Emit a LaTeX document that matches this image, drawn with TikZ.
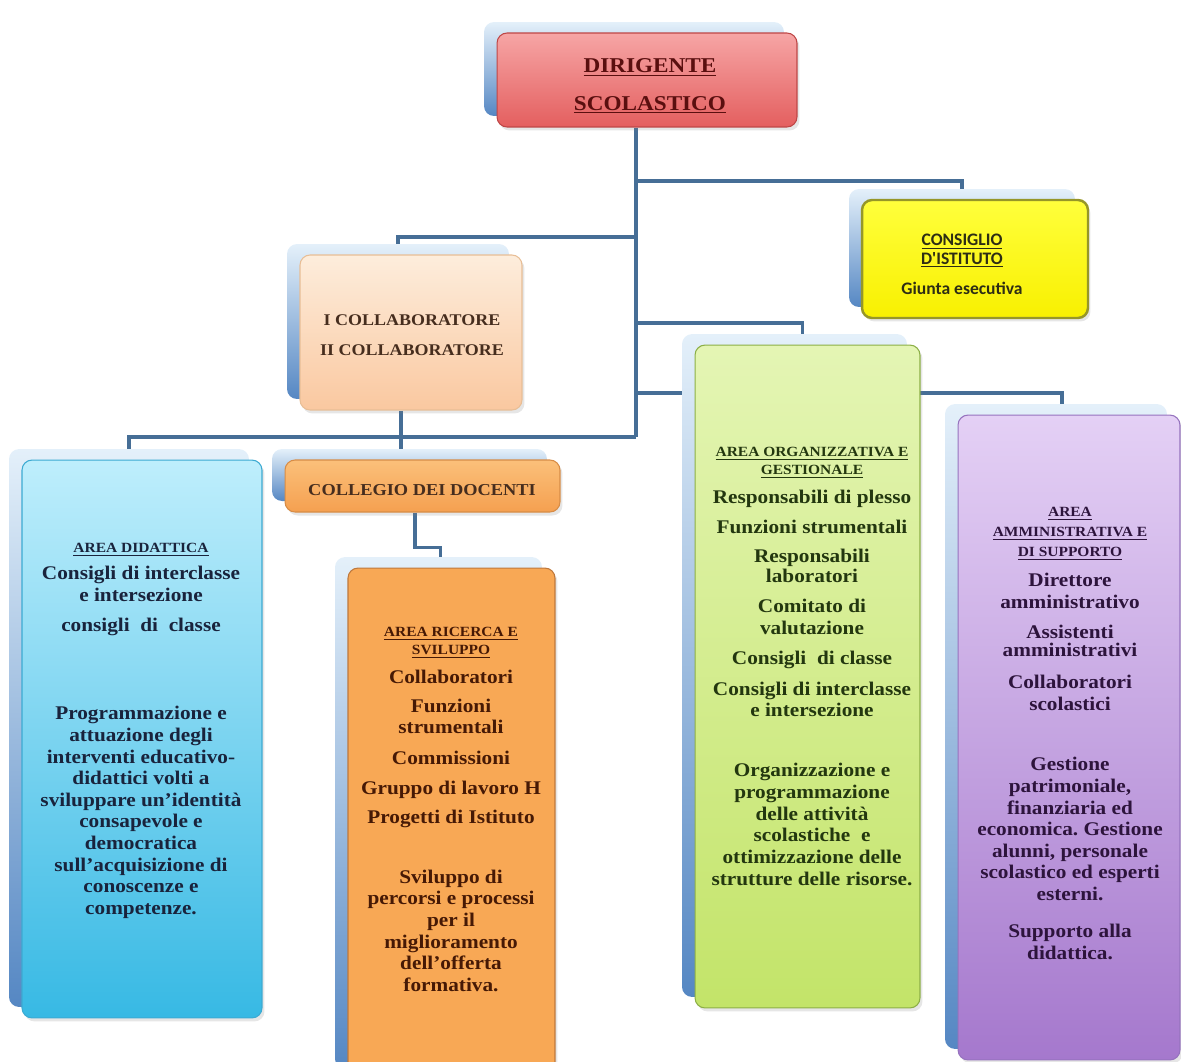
\documentclass[tikz,border=0pt]{standalone}
\usepackage{fontspec}
\setmainfont{Liberation Serif}[FakeStretch=1.1]
\newfontfamily\calib{Carlito}
\usetikzlibrary{shadows}
\pgfdeclarelayer{bg}
\pgfsetlayers{bg,main}
\frenchspacing
\definecolor{linkc}{RGB}{70,110,150}
\definecolor{shtop}{RGB}{228,240,250}
\definecolor{shbot}{RGB}{85,135,195}
\definecolor{redtop}{RGB}{246,165,165}
\definecolor{redbot}{RGB}{228,95,95}
\definecolor{redline}{RGB}{190,70,70}
\definecolor{redtxt}{RGB}{90,15,15}
\definecolor{yeltop}{RGB}{255,255,60}
\definecolor{yelbot}{RGB}{248,240,0}
\definecolor{yelline}{RGB}{150,150,40}
\definecolor{constxt}{RGB}{45,45,20}
\definecolor{pchtop}{RGB}{253,237,220}
\definecolor{pchbot}{RGB}{250,200,160}
\definecolor{pchline}{RGB}{232,190,150}
\definecolor{coltxt}{RGB}{70,45,30}
\definecolor{orgtop}{RGB}{251,192,122}
\definecolor{orgbot}{RGB}{245,160,80}
\definecolor{orgline}{RGB}{215,140,70}
\definecolor{didtop}{RGB}{190,238,252}
\definecolor{didbot}{RGB}{55,185,228}
\definecolor{didline}{RGB}{60,170,210}
\definecolor{didtxt}{RGB}{25,35,60}
\definecolor{ricfill}{RGB}{248,168,85}
\definecolor{ricline}{RGB}{190,120,60}
\definecolor{rictxt}{RGB}{70,25,5}
\definecolor{grntop}{RGB}{228,245,180}
\definecolor{grnbot}{RGB}{195,228,105}
\definecolor{grnline}{RGB}{140,175,70}
\definecolor{grntxt}{RGB}{35,55,15}
\definecolor{vlttop}{RGB}{228,208,245}
\definecolor{vltbot}{RGB}{165,120,205}
\definecolor{vltline}{RGB}{150,115,190}
\definecolor{vlttxt}{RGB}{45,20,60}
\newcommand{\hd}[1]{{\fontsize{8}{9}\selectfont\underline{#1}}}
\tikzset{box/.style={rounded corners=0.2cm, line width=0.6pt, inner sep=0pt,
    preaction={draw=none, top color=shtop, bottom color=shbot,
      transform canvas={xshift=-0.26cm, yshift=0.22cm}},
    drop shadow={shadow xshift=0.05cm, shadow yshift=-0.07cm, opacity=0.2}}}
\tikzset{txt/.style={align=center, inner sep=0pt, font=\fontsize{11}{12.3}\selectfont\bfseries}}
\tikzset{link/.style={draw=linkc, line width=2.2pt}}

\begin{document}
\begin{tikzpicture}[x=0.02cm,y=-0.02cm]
  \useasboundingbox (0,0) rectangle (1181,1062);
  \clip (0,0) rectangle (1181,1062);
  \node[box, draw=redline, top color=redtop, bottom color=redbot, minimum width=6cm, minimum height=1.88cm] (dirigente) at (647,80) {};
  \node[box, draw=yelline, line width=1.4pt, top color=yeltop, bottom color=yelbot, minimum width=4.52cm, minimum height=2.36cm] (consiglio) at (975,259) {};
  \node[box, draw=pchline, top color=pchtop, bottom color=pchbot, minimum width=4.44cm, minimum height=3.1cm] (collab) at (411,332.5) {};
  \node[box, draw=orgline, top color=orgtop, bottom color=orgbot, minimum width=5.5cm, minimum height=1.04cm] (collegio) at (422.5,486) {};
  \node[box, draw=didline, top color=didtop, bottom color=didbot, minimum width=4.8cm, minimum height=11.16cm] (didattica) at (142,739) {};
  \node[box, draw=ricline, fill=ricfill, minimum width=4.14cm, minimum height=10.24cm] (ricerca) at (451.5,824) {};
  \node[box, draw=grnline, top color=grntop, bottom color=grnbot, minimum width=4.5cm, minimum height=13.26cm] (organizz) at (807.5,676.5) {};
  \node[box, draw=vltline, top color=vlttop, bottom color=vltbot, minimum width=4.44cm, minimum height=12.9cm] (amministr) at (1069,737.5) {};

  \node[txt, text=redtxt, font=\fontsize{12}{21.5}\selectfont\bfseries] (dirigente-t) at (650,86)
    {\underline{DIRIGENTE}\\\underline{SCOLASTICO}};
  \node[txt, text=constxt, font=\calib\fontsize{10}{10.4}\selectfont\bfseries, anchor=north] (consiglio-t) at (962,234)
    {\underline{CONSIGLIO}\\\underline{D'ISTITUTO}\\[7pt]Giunta esecutiva};
  \node[txt, text=coltxt, font=\fontsize{9.3}{17}\selectfont\bfseries] (collab-t) at (412,335)
    {I COLLABORATORE\\II COLLABORATORE};
  \node[txt, text=coltxt, font=\fontsize{9.5}{11}\selectfont\bfseries] (collegio-t) at (422,490)
    {COLLEGIO DEI DOCENTI};
  \node[txt, text=didtxt, anchor=north] (didattica-t) at (141,543)
    {\hd{AREA DIDATTICA}\\[3pt]Consigli di interclasse\\e intersezione\\[5pt]consigli~ di~ classe\\[38pt]
     Programmazione e\\attuazione degli\\interventi educativo-\\didattici volti a\\sviluppare un'identità\\
     consapevole e\\democratica\\sull'acquisizione di\\conoscenze e\\competenze.};
  \node[txt, text=rictxt, anchor=north] (ricerca-t) at (451,627)
    {\hd{AREA RICERCA E}\\[-2pt]\hd{SVILUPPO}\\[4pt]Collaboratori\\[4pt]Funzioni\\strumentali\\[5pt]Commissioni\\[5pt]
     Gruppo di lavoro H\\[4pt]Progetti di Istituto\\[22pt]Sviluppo di\\percorsi e processi\\per il\\miglioramento\\
     dell'offerta\\formativa.};
  \node[txt, text=grntxt, anchor=north] (organizz-t) at (812,447)
    {\hd{AREA ORGANIZZATIVA E}\\[-2pt]\hd{GESTIONALE}\\[4pt]Responsabili di plesso\\[5pt]Funzioni strumentali\\[4pt]
     Responsabili\\[-1pt]laboratori\\[5pt]Comitato di\\valutazione\\[5pt]Consigli~ di classe\\[5pt]
     Consigli di interclasse\\e intersezione\\[22pt]Organizzazione e\\programmazione\\delle attività\\
     scolastiche~ e\\ottimizzazione delle\\strutture delle risorse.};
  \node[txt, text=vlttxt, anchor=north] (amministr-t) at (1070,507)
    {\hd{AREA}\\[-1pt]\hd{AMMINISTRATIVA E}\\[-1pt]\hd{DI SUPPORTO}\\[5pt]Direttore\\amministrativo\\[5pt]
     Assistenti\\[-2pt]amministrativi\\[6pt]Collaboratori\\scolastici\\[22pt]Gestione\\patrimoniale,\\
     finanziaria ed\\economica. Gestione\\alunni, personale\\scolastico ed esperti\\esterni.\\[9pt]
     Supporto alla\\didattica.};

  \begin{pgfonlayer}{bg}
    \coordinate (hub) at (636,437);
    \draw[link] (dirigente.south -| hub) -- (hub);
    \draw[link] (hub |- 0,181) -| ([xshift=-0.26cm]consiglio.north);
    \draw[link] (hub |- 0,237) -| ([xshift=-0.26cm]collab.north);
    \draw[link] ([xshift=-0.2cm]collab.south) -- ([xshift=-0.2cm]collab.south |- collegio.north);
    \draw[link] (hub) -| ([xshift=-0.26cm]didattica.north);
    \draw[link] ([xshift=-0.15cm]collegio.south) -- ++(0,35) -| ([xshift=-0.22cm]ricerca.north);
    \draw[link] (hub |- 0,323) -| ([xshift=-0.1cm]organizz.north);
    \draw[link] (hub |- 0,393) -| ([xshift=-0.14cm]amministr.north);
  \end{pgfonlayer}
\end{tikzpicture}
\end{document}
